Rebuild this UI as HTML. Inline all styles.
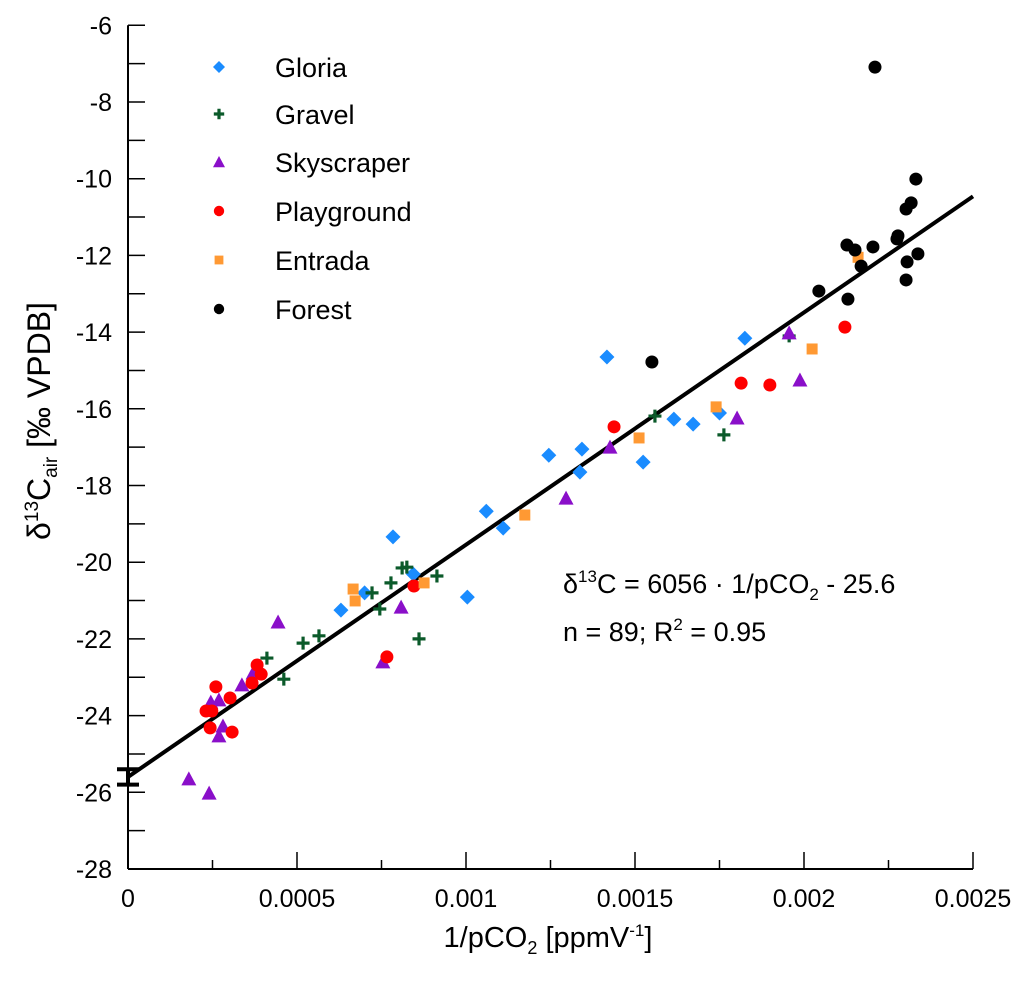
<!DOCTYPE html>
<html><head><meta charset="utf-8"><style>
html,body{margin:0;padding:0;background:#fff;}
svg{display:block;font-family:"Liberation Sans",sans-serif;}
</style></head><body>
<svg id="chart" width="1033" height="991" viewBox="0 0 1033 991" xmlns="http://www.w3.org/2000/svg">
<g id="axes"></g>
<g id="marks"></g>
<g id="legend"></g>
<text x="548" y="947" font-size="29" text-anchor="middle">1/pCO<tspan font-size="18" dy="7">2</tspan><tspan dy="-7"> [ppmV</tspan><tspan font-size="17" dy="-11">-1</tspan><tspan dy="11">]</tspan></text>
<text transform="translate(50,421) rotate(-90)" font-size="32" text-anchor="middle">δ<tspan font-size="19" dy="-12">13</tspan><tspan dy="12">C</tspan><tspan font-size="19" dy="7">air</tspan><tspan dy="-7"> [‰ VPDB]</tspan></text>
<text x="563" y="593" font-size="27">δ<tspan font-size="17" dy="-11">13</tspan><tspan dy="11">C = 6056 · 1/pCO</tspan><tspan font-size="17" dy="7">2</tspan><tspan dy="-7"> - 25.6</tspan></text>
<text x="563" y="641" font-size="27">n = 89; R<tspan font-size="17" dy="-11">2</tspan><tspan dy="11"> = 0.95</tspan></text>
</svg>
<script>
const xTicks=[0,0.0005,0.001,0.0015,0.002,0.0025];
const xTickLabels=["0","0.0005","0.001","0.0015","0.002","0.0025"];
const yTicks=[-6,-8,-10,-12,-14,-16,-18,-20,-22,-24,-26,-28];
const yTickLabels=["-6","-8","-10","-12","-14","-16","-18","-20","-22","-24","-26","-28"];
const fitSlope=6056, fitIntercept=-25.6;
const interceptErr=[-25.4,-25.8];
const seriesNames=["Gloria","Gravel","Skyscraper","Playground","Entrada","Forest"];
const gloria=[[0.00063,-21.25],[0.0007,-20.8],[0.000784,-19.34],[0.000844,-20.31],[0.001004,-20.91],[0.00106,-18.67],[0.00111,-19.11],[0.001245,-17.21],[0.001343,-17.05],[0.001337,-17.65],[0.001524,-17.39],[0.001417,-14.65],[0.001615,-16.27],[0.001672,-16.4],[0.00175,-16.11],[0.001825,-14.16]];
const gravel=[[0.000411,-22.5],[0.000518,-22.11],[0.000565,-21.92],[0.000461,-23.05],[0.000722,-20.8],[0.000745,-21.22],[0.000778,-20.54],[0.000811,-20.15],[0.000825,-20.13],[0.000914,-20.36],[0.000861,-22.0],[0.001559,-16.19],[0.001763,-16.68],[0.001956,-14.1]];
const skyscraper=[[0.000444,-21.56],[0.00037,-22.89],[0.000337,-23.2],[0.000269,-23.59],[0.000245,-23.65],[0.000281,-24.27],[0.000269,-24.53],[0.00018,-25.65],[0.00024,-26.02],[0.000754,-22.6],[0.000808,-21.17],[0.001426,-17.0],[0.001296,-18.33],[0.001802,-16.24],[0.001956,-14.02],[0.001988,-15.25]];
const playground=[[0.00026,-23.25],[0.000302,-23.54],[0.000231,-23.88],[0.000248,-23.88],[0.000243,-24.32],[0.000308,-24.43],[0.000367,-23.15],[0.000382,-22.68],[0.000394,-22.92],[0.000766,-22.47],[0.000846,-20.62],[0.001438,-16.47],[0.001814,-15.33],[0.001899,-15.38],[0.002121,-13.87]];
const entrada=[[0.000666,-20.7],[0.000672,-21.01],[0.000876,-20.54],[0.001174,-18.77],[0.001512,-16.76],[0.00174,-15.95],[0.002024,-14.44],[0.00216,-12.05]];
const forest=[[0.00221,-7.09],[0.002331,-10.01],[0.002317,-10.63],[0.002302,-10.79],[0.002278,-11.49],[0.002275,-11.57],[0.002337,-11.96],[0.002305,-12.17],[0.002302,-12.64],[0.002204,-11.78],[0.002127,-11.73],[0.002151,-11.86],[0.002169,-12.28],[0.002044,-12.93],[0.00213,-13.14],[0.00155,-14.78]];

const NS="http://www.w3.org/2000/svg";
const X=v=>128+v/0.0025*845;
const Y=v=>869-(v+28)*38.35;
function mk(tag,attrs,parent){const e=document.createElementNS(NS,tag);for(const k in attrs)e.setAttribute(k,attrs[k]);parent.appendChild(e);return e;}
const axes=document.getElementById('axes');
let l=mk('line',{x1:X(0),y1:Y(-6),x2:X(0),y2:Y(-28),stroke:'#000','stroke-width':2},axes);


l=mk('line',{x1:X(0),y1:Y(-28),x2:X(0.0025),y2:Y(-28),stroke:'#000','stroke-width':2},axes);


for(let v=-28;v<=-6;v++){
  const t=mk('line',{x1:X(0),x2:X(0)+17,y1:Y(v),y2:Y(v),stroke:'#000','stroke-width':1.5},axes);
  
  
}
yTicks.forEach((v,i)=>{
  const t=mk('text',{x:112,y:Y(v)+9,'font-size':25,'text-anchor':'end'},axes);t.textContent=yTickLabels[i];
  
  
});
for(let i=0;i<=10;i++){
  const v=i*0.00025;const len=i%2===0?17:9;
  const t=mk('line',{x1:X(v),x2:X(v),y1:Y(-28),y2:Y(-28)-len,stroke:'#000','stroke-width':1.5},axes);
  
  
}
xTicks.forEach((v,i)=>{
  const t=mk('text',{x:X(v),y:907,'font-size':25,'text-anchor':'middle'},axes);t.textContent=xTickLabels[i];
  
  
});
const fit=mk('line',{x1:X(0),y1:Y(fitIntercept),x2:X(0.0025),y2:Y(fitSlope*0.0025+fitIntercept),stroke:'#000','stroke-width':4},axes);


const eb=mk('path',{d:`M${X(0)-11},${Y(interceptErr[0])}H${X(0)+11}M${X(0)-11},${Y(interceptErr[1])}H${X(0)+11}M${X(0)},${Y(interceptErr[0])}V${Y(interceptErr[1])}`,stroke:'#000','stroke-width':4,fill:'none'},axes);



function marker(type,cx,cy,parent,s){
  s=s||1;let e;
  if(type==='diamond')e=mk('path',{d:`M${cx},${cy-7.5*s}L${cx+7.5*s},${cy}L${cx},${cy+7.5*s}L${cx-7.5*s},${cy}Z`,fill:'#1a8cff'},parent);
  else if(type==='cross')e=mk('path',{d:`M${cx-6.5*s},${cy}H${cx+6.5*s}M${cx},${cy-6.5*s}V${cy+6.5*s}`,stroke:'#0b5a2a','stroke-width':3.2,fill:'none'},parent);
  else if(type==='tri')e=mk('path',{d:`M${cx},${cy-7.5*s}L${cx+7.5*s},${cy+6.5*s}L${cx-7.5*s},${cy+6.5*s}Z`,fill:'#8a0fc9'},parent);
  else if(type==='circle')e=mk('circle',{cx:cx,cy:cy,r:6.5*s,fill:'#ff0000'},parent);
  else if(type==='square')e=mk('rect',{x:cx-5.5*s,y:cy-5.5*s,width:11*s,height:11*s,fill:'#ff9933'},parent);
  else e=mk('circle',{cx:cx,cy:cy,r:6.5*s,fill:'#000'},parent);
  return e;
}
const marks=document.getElementById('marks');
const types=['diamond','cross','tri','circle','square','dot'];
const sets=[gloria,gravel,skyscraper,playground,entrada,forest];
const pnames=['gloria-point','gravel-point','skyscraper-point','playground-point','entrada-point','forest-point'];
sets.forEach((arr,si)=>{arr.forEach(p=>{
  const e=marker(types[si],X(p[0]),Y(p[1]),marks);
  
  
});});
const lg=document.getElementById('legend');
const lgY=[67,114,162,211,260,309];
const lnames=['legend-entry-gloria','legend-entry-gravel','legend-entry-skyscraper','legend-entry-playground','legend-entry-entrada','legend-entry-forest'];
seriesNames.forEach((n,i)=>{
  const g=mk('g',{},lg);
  
  
  marker(types[i],219,lgY[i],g,0.8);
  const t=mk('text',{x:275,y:lgY[i]+10,'font-size':27},g);t.textContent=n;
});
</script>
</body></html>
